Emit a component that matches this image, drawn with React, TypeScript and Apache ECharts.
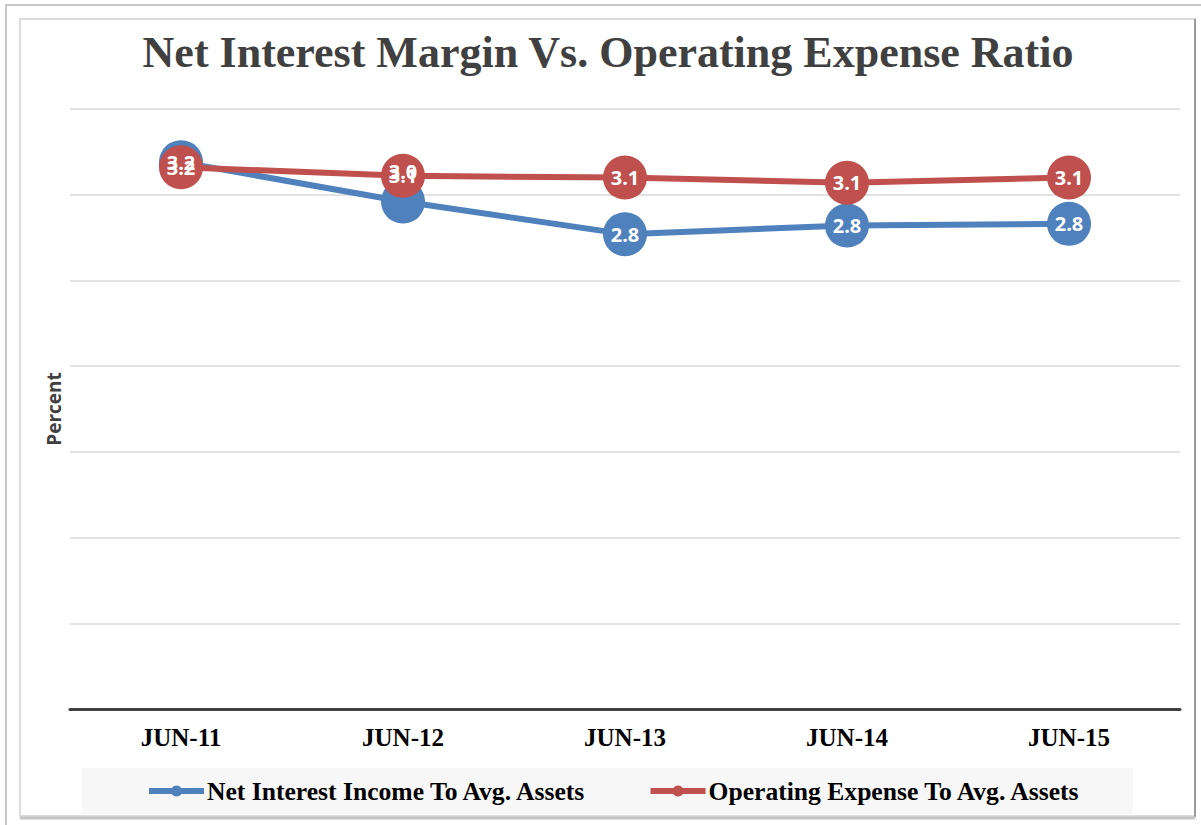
import React, { useEffect, useRef } from "react";
import * as echarts from "echarts";

const categories = ["JUN-11", "JUN-12", "JUN-13", "JUN-14", "JUN-15"];
const netInterest = [3.19, 2.96, 2.77, 2.82, 2.83];
const operatingExpense = [3.16, 3.11, 3.1, 3.07, 3.1];
const seriesNames = ["Net Interest Income To Avg. Assets", "Operating Expense To Avg. Assets"];
const yTicksMax = 3.5;
const yInterval = 0.5;

const BLUE = "#4f81bd";
const RED = "#c0504d";
const SERIF = "'Liberation Serif', 'DejaVu Serif', serif";
const SANS = "'Open Sans', 'Noto Sans', sans-serif";

export default function App() {
  const ref = useRef<HTMLDivElement>(null);
  useEffect(() => {
    if (!ref.current) return;
    const chart = echarts.init(ref.current, null, { renderer: "svg" });
    const labelCfg = {
      show: true,
      position: "inside",
      color: "#fff",
      opacity: 1,
      fontFamily: SANS,
      fontWeight: "bold",
      fontSize: 20,
      formatter: (p: any) => Number(p.value).toFixed(1),
    };
    chart.setOption({
      animation: false,
      backgroundColor: "#fff",
      graphic: [
        { type: "line", shape: { x1: 5, y1: 5, x2: 1201, y2: 5 }, style: { stroke: "#c8c8c8", lineWidth: 2 }, z: -10 },
        { type: "line", shape: { x1: 6, y1: 5, x2: 6, y2: 825 }, style: { stroke: "#c8c8c8", lineWidth: 2 }, z: -10 },
        { type: "rect", shape: { x: 20, y: 19, width: 1175, height: 797 }, style: { fill: "#fff", stroke: "#dcdcdc", lineWidth: 2 }, z: -10 },
        { type: "line", shape: { x1: 1195, y1: 19, x2: 1195, y2: 817 }, style: { stroke: "#9a9a9a", lineWidth: 2 }, z: -9 },
        { type: "line", shape: { x1: 20, y1: 818, x2: 1195, y2: 818 }, style: { stroke: "#c4c4c4", lineWidth: 3 }, z: -9 },
        {
          type: "text",
          x: 608,
          y: 52,
          style: {
            text: "Net Interest Margin Vs. Operating Expense Ratio",
            fontFamily: SERIF,
            fontWeight: "bold",
            fontSize: 44,
            fill: "#404040",
            textAlign: "center",
            textVerticalAlign: "middle",
          },
        },
      ],
      legend: {
        left: 82,
        top: 768,
        backgroundColor: "#f7f7f7",
        padding: [10, 51, 10, 64],
        itemGap: 60,
        itemWidth: 55,
        itemHeight: 14,
        lineStyle: { width: 6 },
        textStyle: { fontFamily: SERIF, fontWeight: "bold", fontSize: 25.6, color: "#000", padding: [0, 0, 0, -2] },
        data: seriesNames,
      },
      grid: { left: 70, right: 21, top: 109, bottom: 116, containLabel: false },
      xAxis: {
        type: "category",
        data: categories,
        boundaryGap: true,
        axisLine: { show: true, lineStyle: { color: "#404040", width: 3 } },
        axisTick: { show: false },
        axisLabel: { fontFamily: SERIF, fontWeight: "bold", fontSize: 25, color: "#000", margin: 16 },
      },
      yAxis: {
        type: "value",
        min: 0,
        max: yTicksMax,
        interval: yInterval,
        name: "Percent",
        nameLocation: "middle",
        nameRotate: 90,
        nameGap: 7,
        nameTextStyle: { fontFamily: SANS, fontWeight: "bold", fontSize: 19, color: "#404040" },
        axisLine: { show: false },
        axisTick: { show: false },
        axisLabel: { show: false },
        splitLine: { show: true, lineStyle: { color: "#d9d9d9", width: 1.5 } },
      },
      series: [
        {
          name: seriesNames[0],
          type: "line",
          data: netInterest,
          symbol: "circle",
          symbolSize: 44,
          itemStyle: { color: BLUE },
          lineStyle: { color: BLUE, width: 6 },
          label: { show: false },
          z: 2,
        },
        {
          name: seriesNames[1],
          type: "line",
          data: operatingExpense,
          symbol: "circle",
          symbolSize: 44,
          itemStyle: { color: RED },
          lineStyle: { color: RED, width: 6 },
          label: labelCfg,
          z: 3,
        },
        {
          name: "blue-labels",
          type: "scatter",
          data: netInterest.map((v, i) =>
            i === 1 ? { value: v, label: { offset: [0, -30] } } : v
          ),
          symbol: "circle",
          symbolSize: 1,
          itemStyle: { color: BLUE, opacity: 1 },
          label: labelCfg,
          silent: true,
          z: 10,
        },
      ],
    });
    return () => chart.dispose();
  }, []);
  return <div ref={ref} style={{ position: "fixed", left: 0, top: 0, width: 1201, height: 825 }} />;
}
